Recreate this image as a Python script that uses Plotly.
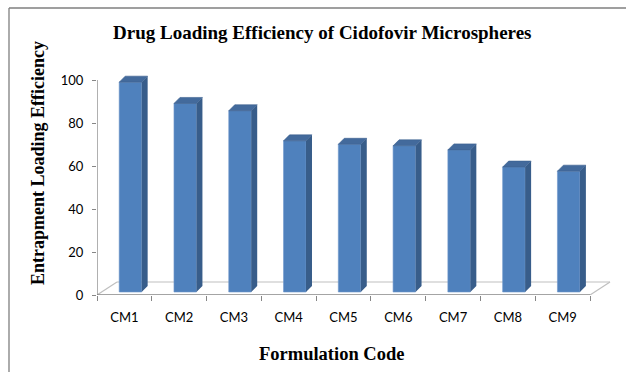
import numpy as np
import plotly.graph_objects as go

# ---- data -------------------------------------------------------------
formulations = ["CM1", "CM2", "CM3", "CM4", "CM5", "CM6", "CM7", "CM8", "CM9"]
entrapment = [97.6, 87.7, 84.3, 70.3, 68.7, 68.0, 66.1, 58.1, 56.2]
y_ticks = [0, 20, 40, 60, 80, 100]

# ---- page geometry (pixels) -------------------------------------------
W, H = 629, 372
L, R, T, B = 97, 613, 67, 295          # plot area edges
UX = 54.78                              # pixels per category
UY = 2.15                               # pixels per value unit
X_MIN = -0.5
X_MAX = X_MIN + (R - L) / UX
Y_MAX = (B - T) / UY

# pseudo-3D depth of the floor and of each column (data units)
FLOOR_DX, FLOOR_DY = 20 / UX, 13 / UY
COL_DX, COL_DY = 6 / UX, 6 / UY
COL_SHIFT = 0.11                        # columns sit mid-depth on the floor
COL_BASE = 3 / UY
COL_W = 0.41

FRONT = "#4F81BD"
SIDE = "#385D8A"
TOP = "#436A9C"
AXIS = "#868686"
FLOOR = "#BFBFBF"


def px(x):
    return (x - L) / (R - L)


def py(y):
    return (B - y) / (B - T)


xs = np.arange(len(formulations), dtype=float)
vals = np.array(entrapment, dtype=float)
x_front = xs + COL_SHIFT
x_left = x_front - COL_W / 2
x_right = x_front + COL_W / 2
y_bot = np.full_like(vals, COL_BASE)
y_top = COL_BASE + vals

# side and top faces as filled polygons built from the values
side_x, side_y, top_x, top_y = [], [], [], []
for xl, xr, yb, yt in zip(x_left, x_right, y_bot, y_top):
    side_x += [xr, xr + COL_DX, xr + COL_DX, xr, xr, None]
    side_y += [yb, yb + COL_DY, yt + COL_DY, yt, yb, None]
    top_x += [xl, xl + COL_DX, xr + COL_DX, xr, xl, None]
    top_y += [yt, yt + COL_DY, yt + COL_DY, yt, yt, None]

fig = go.Figure()

fig.add_trace(go.Bar(
    x=x_front, y=vals, base=COL_BASE, width=COL_W,
    marker=dict(color=FRONT, line=dict(width=0.6, color="#6E97CB")),
    hoverinfo="skip", showlegend=False,
))
fig.add_trace(go.Scatter(
    x=side_x, y=side_y, mode="lines", fill="toself", fillcolor=SIDE,
    line=dict(width=0, color=SIDE), hoverinfo="skip", showlegend=False,
))
fig.add_trace(go.Scatter(
    x=top_x, y=top_y, mode="lines", fill="toself", fillcolor=TOP,
    line=dict(width=0.6, color="#3A5F8E"), hoverinfo="skip", showlegend=False,
))

x_lo, x_hi = -0.5, len(formulations) - 0.5
shapes = [
    # floor outline
    dict(type="line", xref="x", yref="y", layer="below",
         x0=x_lo + FLOOR_DX, y0=FLOOR_DY, x1=x_hi + FLOOR_DX, y1=FLOOR_DY,
         line=dict(color=FLOOR, width=1.2)),
    dict(type="line", xref="x", yref="y", layer="below",
         x0=x_lo, y0=0, x1=x_lo + FLOOR_DX, y1=FLOOR_DY,
         line=dict(color=FLOOR, width=1.2)),
    dict(type="line", xref="x", yref="y", layer="below",
         x0=x_hi, y0=0, x1=x_hi + FLOOR_DX, y1=FLOOR_DY,
         line=dict(color=FLOOR, width=1.2)),
    # front category axis and value axis
    dict(type="line", xref="x", yref="y", layer="below",
         x0=x_lo, y0=0, x1=x_hi, y1=0, line=dict(color=AXIS, width=1.3)),
    dict(type="line", xref="x", yref="y", layer="below",
         x0=x_lo, y0=0, x1=x_lo, y1=max(y_ticks),
         line=dict(color=AXIS, width=1.3)),
    # chart frame (left and top edges)
    dict(type="line", xref="paper", yref="paper",
         x0=px(9), y0=py(8), x1=px(9), y1=py(H + 5),
         line=dict(color="#7F7F7F", width=1.3)),
    dict(type="line", xref="paper", yref="paper",
         x0=px(9), y0=py(8), x1=px(626), y1=py(8),
         line=dict(color="#7F7F7F", width=1.3)),
]

serif = "Liberation Serif, Times New Roman, serif"
annotations = [
    dict(text="<b>Drug Loading Efficiency of Cidofovir Microspheres</b>",
         xref="paper", yref="paper", x=px(322), y=py(33),
         xanchor="center", yanchor="middle", showarrow=False,
         font=dict(family=serif, size=19, color="black")),
    dict(text="<b>Formulation Code</b>",
         xref="paper", yref="paper", x=px(331), y=py(354),
         xanchor="center", yanchor="middle", showarrow=False,
         font=dict(family=serif, size=18.5, color="black")),
    dict(text="<b>Entrapment Loading Efficiency</b>",
         xref="paper", yref="paper", x=px(38), y=py(163),
         xanchor="center", yanchor="middle", showarrow=False, textangle=-90,
         font=dict(family=serif, size=18, color="black")),
]

tick_font = dict(family="Lato, Carlito, Calibri, sans-serif", size=13, color="black")

fig.update_layout(
    width=W, height=H, autosize=False,
    margin=dict(l=L, r=W - R, t=T, b=H - B, pad=0),
    paper_bgcolor="white", plot_bgcolor="white",
    showlegend=False,
    shapes=shapes, annotations=annotations,
    xaxis=dict(
        range=[X_MIN, X_MAX], showgrid=False, zeroline=False, showline=False,
        tickmode="array", tickvals=xs.tolist(), ticktext=formulations,
        ticks="", tickfont=tick_font, ticklabelstandoff=13,
        minor=dict(tickmode="array",
                   tickvals=(np.arange(len(formulations) + 1) - 0.5).tolist(),
                   ticks="outside", ticklen=5, tickcolor=AXIS, tickwidth=1.2,
                   showgrid=False),
        fixedrange=True,
    ),
    yaxis=dict(
        range=[0, Y_MAX], showgrid=False, zeroline=False, showline=False,
        tickmode="array", tickvals=y_ticks,
        ticks="outside", ticklen=4, tickcolor=AXIS, tickwidth=1.2,
        tickfont=tick_font, ticklabelstandoff=6,
        fixedrange=True,
    ),
)

fig.write_html("out.html")
